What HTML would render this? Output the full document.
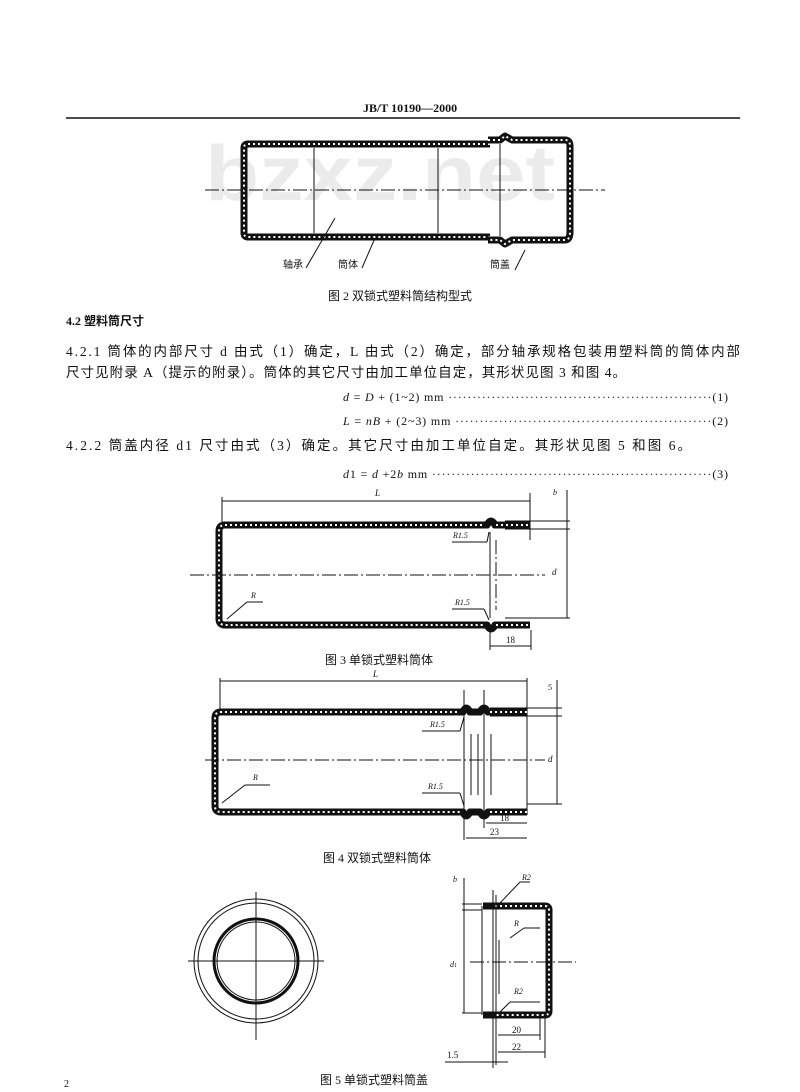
<!DOCTYPE html>
<html><head><meta charset="utf-8"><style>
html,body{margin:0;padding:0;background:#fff;}
svg{display:block;}
text{font-family:"Liberation Serif","Noto Serif CJK SC","Noto Sans CJK SC",serif;fill:#111;}
.cn{font-family:"Liberation Serif","Noto Sans CJK SC",sans-serif;}
.w{fill:none;stroke:#111;stroke-width:7;stroke-linejoin:round;}
.wd{fill:none;stroke:#fff;stroke-width:2;stroke-dasharray:2 3;}
.t{stroke:#111;stroke-width:1;fill:none;}
.c{stroke:#111;stroke-width:1;fill:none;stroke-dasharray:14 3 2 3;}
</style></head><body>
<svg width="800" height="1092" viewBox="0 0 800 1092" xmlns="http://www.w3.org/2000/svg">
<text x="410" y="112" font-size="12" font-weight="bold" text-anchor="middle">JB/T  10190—2000</text>
<line x1="66" y1="118" x2="740" y2="118" stroke="#111" stroke-width="1.5"/>

<text x="205" y="200" font-size="78" font-weight="bold" textLength="350" lengthAdjust="spacingAndGlyphs" style="fill:#ebebeb;font-family:'Liberation Sans',sans-serif">bzxz.net</text>

<!-- Fig 2 -->
<path class="w" d="M490 144 L248 144 Q244 144 244 148 L244 233 Q244 237 248 237 L490 237"/>
<path class="wd" d="M490 144 L248 144 Q244 144 244 148 L244 233 Q244 237 248 237 L490 237"/>
<path class="w" d="M488 140 L500 140 L505 136 L512 140 L565 140 Q570 140 570 146 L570 232 Q570 240 565 240 L512 240 L505 244 L500 240 L488 240"/>
<path class="wd" d="M488 140 L500 140 L505 136 L512 140 L565 140 Q570 140 570 146 L570 232 Q570 240 565 240 L512 240 L505 244 L500 240 L488 240"/>
<line class="t" x1="314" y1="148" x2="314" y2="233"/>
<line class="t" x1="438" y1="148" x2="438" y2="233"/>
<line class="t" x1="500" y1="144" x2="500" y2="236"/>
<line class="c" x1="205" y1="190" x2="605" y2="190"/>
<line class="t" x1="335" y1="218" x2="306" y2="268"/>
<line class="t" x1="375" y1="238" x2="362" y2="268"/>
<line class="t" x1="525" y1="250" x2="515" y2="270"/>
<text class="cn" x="283" y="268" font-size="10">轴承</text>
<text class="cn" x="338" y="268" font-size="10">筒体</text>
<text class="cn" x="490" y="268" font-size="10">筒盖</text>
<text class="cn" x="400" y="300" font-size="12" text-anchor="middle">图 2   双锁式塑料筒结构型式</text>

<!-- text -->
<text class="cn" x="66" y="325" font-size="12" font-weight="bold">4.2  塑料筒尺寸</text>
<text class="cn" x="66" y="356" font-size="13.5" textLength="674" lengthAdjust="spacing">4.2.1 筒体的内部尺寸 d 由式（1）确定，L 由式（2）确定，部分轴承规格包装用塑料筒的筒体内部</text>
<text class="cn" x="66" y="377" font-size="13.5" textLength="560" lengthAdjust="spacing">尺寸见附录 A（提示的附录）。筒体的其它尺寸由加工单位自定，其形状见图 3 和图 4。</text>
<text x="343" y="401" font-size="12" textLength="385" lengthAdjust="spacing"><tspan font-style="italic">d</tspan> = <tspan font-style="italic">D</tspan> + (1~2)    mm ·······················································(1)</text>
<text x="343" y="425" font-size="12" textLength="385" lengthAdjust="spacing"><tspan font-style="italic">L</tspan> = <tspan font-style="italic">nB</tspan> + (2~3)    mm ·····················································(2)</text>
<text class="cn" x="66" y="450" font-size="13.5" textLength="625" lengthAdjust="spacing">4.2.2 筒盖内径 d1 尺寸由式（3）确定。其它尺寸由加工单位自定。其形状见图 5 和图 6。</text>
<text x="343" y="478" font-size="12" textLength="385" lengthAdjust="spacing"><tspan font-style="italic">d</tspan>1 = <tspan font-style="italic">d</tspan> +2<tspan font-style="italic">b</tspan>   mm ··························································(3)</text>

<!-- Fig 3 -->
<line class="t" x1="222" y1="497" x2="222" y2="525"/>
<line class="t" x1="530" y1="493" x2="530" y2="540"/>
<line class="t" x1="222" y1="501" x2="530" y2="501"/>
<text x="375" y="496" font-size="9" font-style="italic">L</text>
<path class="w" d="M487 525 L225 525 Q219 525 219 531 L219 619 Q219 625 225 625 L487 625"/>
<path class="wd" d="M487 525 L225 525 Q219 525 219 531 L219 619 Q219 625 225 625 L487 625"/>
<path class="w" d="M484 525 L487 525 Q491 517 495 525 L530 525 M484 625 L487 625 Q491 633 495 625 L530 625"/>
<path class="wd" d="M496 525 L530 525 M496 625 L530 625"/>
<line class="t" x1="490" y1="532" x2="490" y2="618"/>
<line class="c" x1="496" y1="540" x2="496" y2="610"/>
<line class="c" x1="190" y1="575" x2="545" y2="575"/>
<line class="t" x1="505" y1="521" x2="570" y2="521"/><line class="t" x1="505" y1="529" x2="570" y2="529"/>
<line class="t" x1="505" y1="618" x2="570" y2="618"/><line class="t" x1="567" y1="490" x2="567" y2="618"/>
<text x="553" y="495" font-size="8" font-style="italic">b</text>
<text x="552" y="575" font-size="9" font-style="italic">d</text>
<line class="t" x1="452" y1="542" x2="487" y2="542"/><line class="t" x1="487" y1="542" x2="489" y2="532"/>
<text x="453" y="538" font-size="8" font-style="italic">R1.5</text>
<line class="t" x1="452" y1="609" x2="484" y2="609"/><line class="t" x1="484" y1="609" x2="489" y2="620"/>
<text x="455" y="605" font-size="8" font-style="italic">R1.5</text>
<line class="t" x1="247" y1="602" x2="263" y2="602"/><line class="t" x1="247" y1="602" x2="227" y2="619"/>
<text x="251" y="598" font-size="8" font-style="italic">R</text>
<line class="t" x1="490" y1="628" x2="490" y2="650"/><line class="t" x1="531" y1="630" x2="531" y2="650"/>
<line class="t" x1="490" y1="646" x2="531" y2="646"/>
<text x="506" y="643" font-size="9">18</text>
<text class="cn" x="325" y="664" font-size="12">图 3   单锁式塑料筒体</text>

<!-- Fig 4 -->
<line class="t" x1="220" y1="678" x2="220" y2="712"/>
<line class="t" x1="527" y1="678" x2="527" y2="815"/>
<line class="t" x1="220" y1="681" x2="527" y2="681"/>
<text x="373" y="677" font-size="9" font-style="italic">L</text>
<path class="w" d="M462 712 L221 712 Q215 712 215 718 L215 806 Q215 812 221 812 L462 812"/>
<path class="wd" d="M462 712 L221 712 Q215 712 215 718 L215 806 Q215 812 221 812 L462 812"/>
<path class="w" d="M460 712 L463 712 Q466 704 470 712 L480 712 Q484 704 488 712 L527 712 M460 812 L463 812 Q466 820 470 812 L480 812 Q484 820 488 812 L527 812"/>
<path class="wd" d="M490 712 L527 712 M490 812 L527 812"/>
<line class="t" x1="464" y1="690" x2="464" y2="840"/>
<line class="t" x1="484" y1="690" x2="484" y2="828"/>
<line class="t" x1="471" y1="734" x2="471" y2="795"/>
<line class="t" x1="478" y1="734" x2="478" y2="795"/>
<line class="t" x1="491" y1="734" x2="491" y2="795"/>
<line class="c" x1="205" y1="760" x2="545" y2="760"/>
<line class="t" x1="490" y1="708" x2="562" y2="708"/><line class="t" x1="490" y1="716" x2="562" y2="716"/>
<line class="t" x1="527" y1="804" x2="562" y2="804"/><line class="t" x1="557" y1="680" x2="557" y2="804"/>
<text x="548" y="690" font-size="8">5</text>
<text x="548" y="762" font-size="9" font-style="italic">d</text>
<line class="t" x1="422" y1="731" x2="460" y2="731"/><line class="t" x1="460" y1="731" x2="464" y2="717"/>
<text x="430" y="727" font-size="8" font-style="italic">R1.5</text>
<line class="t" x1="422" y1="793" x2="460" y2="793"/><line class="t" x1="460" y1="793" x2="464" y2="806"/>
<text x="428" y="789" font-size="8" font-style="italic">R1.5</text>
<line class="t" x1="245" y1="785" x2="270" y2="785"/><line class="t" x1="245" y1="785" x2="222" y2="803"/>
<text x="253" y="780" font-size="8" font-style="italic">R</text>
<line class="t" x1="486" y1="823" x2="527" y2="823"/>
<text x="500" y="821" font-size="9">18</text>
<line class="t" x1="466" y1="838" x2="527" y2="838"/>
<text x="490" y="835" font-size="9">23</text>
<text class="cn" x="323" y="862" font-size="12">图 4   双锁式塑料筒体</text>

<!-- Fig 5 left -->
<circle cx="256" cy="961" r="62" class="t" stroke-width="1.2"/>
<circle cx="256" cy="961" r="58" class="t"/>
<circle cx="256" cy="961" r="42" fill="none" stroke="#111" stroke-width="3"/>
<circle cx="256" cy="961" r="39" class="t"/>
<line class="t" x1="188" y1="961" x2="324" y2="961"/>
<line class="t" x1="256" y1="892" x2="256" y2="1040"/>

<!-- Fig 5 right -->
<path class="w" d="M483 906 L545 906 Q549 906 549 910 L549 1011 Q549 1015 545 1015 L483 1015"/>
<path class="wd" d="M495 906 L545 906 Q549 906 549 910 L549 1011 Q549 1015 545 1015 L495 1015"/>
<line class="t" x1="482" y1="906" x2="482" y2="1015"/>
<line class="t" x1="496" y1="895" x2="496" y2="1065"/>
<line class="t" x1="499" y1="940" x2="499" y2="994"/>
<line class="t" x1="493" y1="890" x2="493" y2="1068"/>
<line class="c" x1="470" y1="962" x2="576" y2="962"/>
<line class="t" x1="462" y1="904" x2="482" y2="904"/><line class="t" x1="462" y1="910" x2="482" y2="910"/>
<line class="t" x1="462" y1="1013" x2="482" y2="1013"/>
<line class="t" x1="464" y1="878" x2="464" y2="1013"/>
<text x="453" y="882" font-size="8" font-style="italic">b</text>
<text x="450" y="967" font-size="8" font-style="italic">d<tspan font-size="6">1</tspan></text>
<line class="t" x1="520" y1="882" x2="530" y2="882"/><line class="t" x1="520" y1="882" x2="500" y2="903"/>
<text x="522" y="880" font-size="8" font-style="italic">R2</text>
<line class="t" x1="524" y1="928" x2="540" y2="928"/><line class="t" x1="524" y1="928" x2="510" y2="938"/>
<text x="514" y="926" font-size="8" font-style="italic">R</text>
<line class="t" x1="510" y1="1002" x2="540" y2="1002"/><line class="t" x1="510" y1="1002" x2="500" y2="1012"/>
<text x="514" y="994" font-size="8" font-style="italic">R2</text>
<line class="t" x1="498" y1="1035" x2="540" y2="1035"/><line class="t" x1="540" y1="1018" x2="540" y2="1040"/>
<text x="512" y="1033" font-size="9">20</text>
<line class="t" x1="498" y1="1052" x2="545" y2="1052"/><line class="t" x1="545" y1="1018" x2="545" y2="1058"/>
<text x="512" y="1050" font-size="9">22</text>
<line class="t" x1="445" y1="1062" x2="508" y2="1062"/>
<text x="447" y="1058" font-size="9">1.5</text>
<text class="cn" x="320" y="1084" font-size="12">图 5   单锁式塑料筒盖</text>
<text x="64" y="1087" font-size="10">2</text>
</svg>
</body></html>
